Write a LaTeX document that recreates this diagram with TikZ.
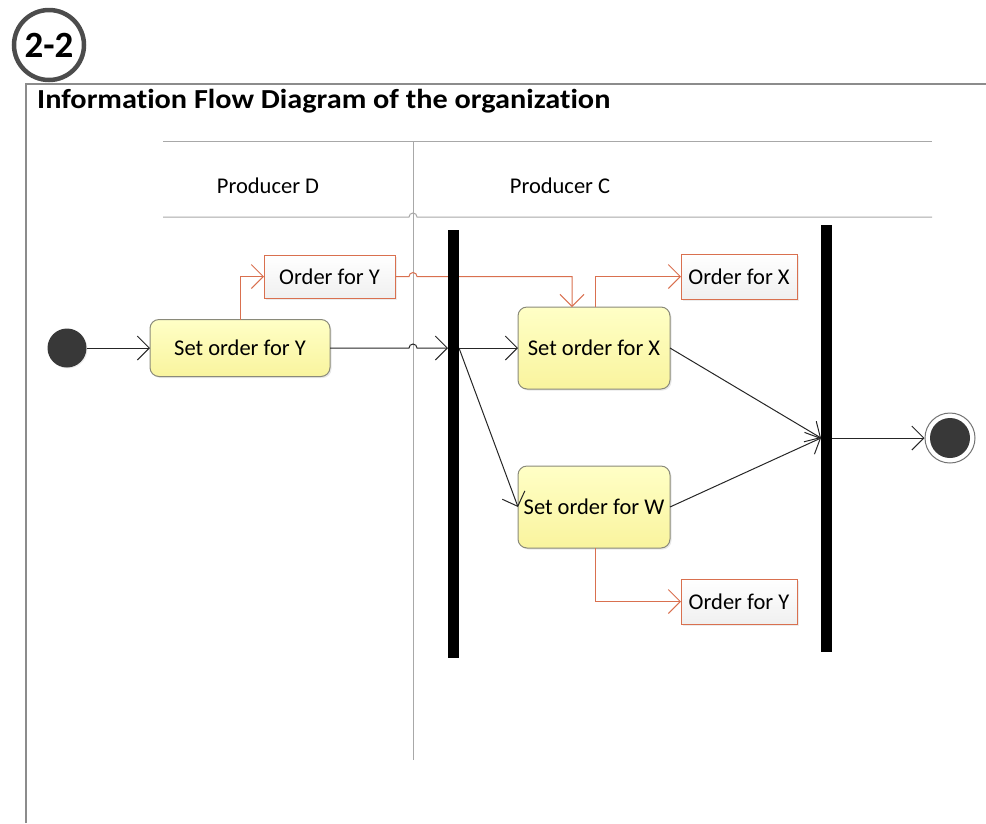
\documentclass[tikz,border=0pt]{standalone}
\usepackage{fontspec}
\setmainfont{Carlito}[Ligatures=NoCommon]
\usetikzlibrary{arrows.meta,shadows,calc}

\definecolor{lanegray}{HTML}{A8A8A8}
\definecolor{framegray}{HTML}{8C8C8C}
\definecolor{flowred}{HTML}{D9704F}
\definecolor{actborder}{HTML}{8A8A7A}
\definecolor{acttop}{HTML}{FFFFC6}
\definecolor{actbot}{HTML}{F9F49E}
\definecolor{nodedark}{HTML}{383838}

\tikzset{
  txt/.style={font=\fontsize{22.5}{25}\selectfont},
  action/.style={txt, draw=actborder, line width=1pt, rounded corners=9pt,
    top color=acttop, bottom color=actbot, inner sep=0pt, outer sep=0pt,
    drop shadow={opacity=0.18, shadow xshift=1.5pt, shadow yshift=-1.5pt}},
  dataobj/.style={txt, draw=flowred, line width=1pt,
    top color=white, bottom color=gray!12, inner sep=0pt, outer sep=0pt,
    drop shadow={opacity=0.15, shadow xshift=1.5pt, shadow yshift=-1.5pt}},
  syncbar/.style={fill=black, draw=none, minimum width=11pt, inner sep=0pt, outer sep=0pt},
  lane/.style={draw=lanegray, line width=1pt},
  flow/.style={draw=black!85, line width=1pt, -{Straight Barb[length=12pt,width=24pt]}},
  objflow/.style={draw=flowred, line width=1pt, -{Straight Barb[length=12pt,width=24pt]}},
  hop/.style={insert path={arc[start angle=180, end angle=0, radius=4pt]}},
}

\begin{document}
\begin{tikzpicture}[x=1pt, y=-1pt]
\useasboundingbox (0,0) rectangle (986,823);

% outer frame
\draw[draw=framegray, line width=1.5pt] (26,823) -- (26,84) -- (986,84);

% numbered badge
\node[circle, draw=black!70, line width=4.5pt, fill=white, minimum size=70pt,
      inner sep=0pt, font=\bfseries\fontsize{37}{40}\selectfont,
      drop shadow={opacity=0.25, shadow xshift=1.5pt, shadow yshift=-1.5pt}]
      (badge) at (49,45) {2-2};

% heading
\node[anchor=west, inner sep=0pt, font=\bfseries\fontsize{27.5}{30}\selectfont]
      (title) at (37,101) {\scalebox{1.1}[1]{Information Flow Diagram of the organization}};

% swimlanes
\coordinate (laneTop) at (413,141);
\coordinate (laneBot) at (413,760);
\draw[lane] (163,141) -- (932,141);
\draw[lane] (laneTop) -- (laneBot);
\draw[lane] (163,217) -- ($(laneTop |- 0,217)+(-4,0)$) [hop] -- (932,217);
\node[txt] (laneD) at (268,186) {Producer D};
\node[txt] (laneC) at (560,186) {Producer C};

% initial and final nodes
\node[circle, fill=nodedark, minimum size=39pt, inner sep=0pt,
      drop shadow={opacity=0.15, shadow xshift=1pt, shadow yshift=-1pt}] (start) at (67,348) {};
\node[circle, draw=black!55, line width=1pt, fill=white, minimum size=50pt, inner sep=0pt] (finish) at (950,438) {};
\node[circle, fill=nodedark, minimum size=40pt, inner sep=0pt] (finishdot) at (finish) {};

% actions
\node[action, minimum width=180pt, minimum height=57pt] (sy) at (240,348) {Set order for Y};
\node[action, minimum width=152pt, minimum height=82pt] (sx) at (594,348) {Set order for X};
\node[action, minimum width=152pt, minimum height=82pt] (sw) at (594,507) {Set order for W};

% data objects
\node[dataobj, minimum width=131pt, minimum height=43pt] (oy1) at (329.5,276.5) {Order for Y};
\node[dataobj, minimum width=116pt, minimum height=45pt] (ox) at (739,276.5) {Order for X};
\node[dataobj, minimum width=116pt, minimum height=45pt] (oy2) at (739,601.5) {Order for Y};

% object flows
\draw[objflow] (sy.north) |- (oy1.west);
\coordinate (xin) at ($(sx.north)+(-22,0)$);
\draw[objflow] (oy1.east) -- ($(laneTop |- oy1.east)+(-4,0)$) [hop] -| (xin);
\draw[objflow] ($(sx.north)+(1,0)$) |- (ox.west);
\draw[objflow] ($(sw.south)+(1,0)$) |- (oy2.west);

% control flows
\draw[flow] (start) -- (start -| sy.west);
\draw[flow] (sy.east) -- ($(laneTop |- sy.east)+(-4,0)$) [hop] -- (448,348);
\coordinate (forkout) at (459,348);
\draw[flow] (forkout) -- (sx.west);
\draw[flow] (forkout) -- (sw.west);
\coordinate (joinin) at (821,438);
\draw[flow] (sx.east) -- (joinin);
\draw[flow] (sw.east) -- (joinin);
\coordinate (joinout) at (832,438);
\draw[flow] (joinout) -- (finish.west);

% fork and join bars
\node[syncbar, minimum height=428pt] (fork) at (453.5,444) {};
\node[syncbar, minimum height=427pt] (join) at (826.5,438.5) {};
\end{tikzpicture}
\end{document}
